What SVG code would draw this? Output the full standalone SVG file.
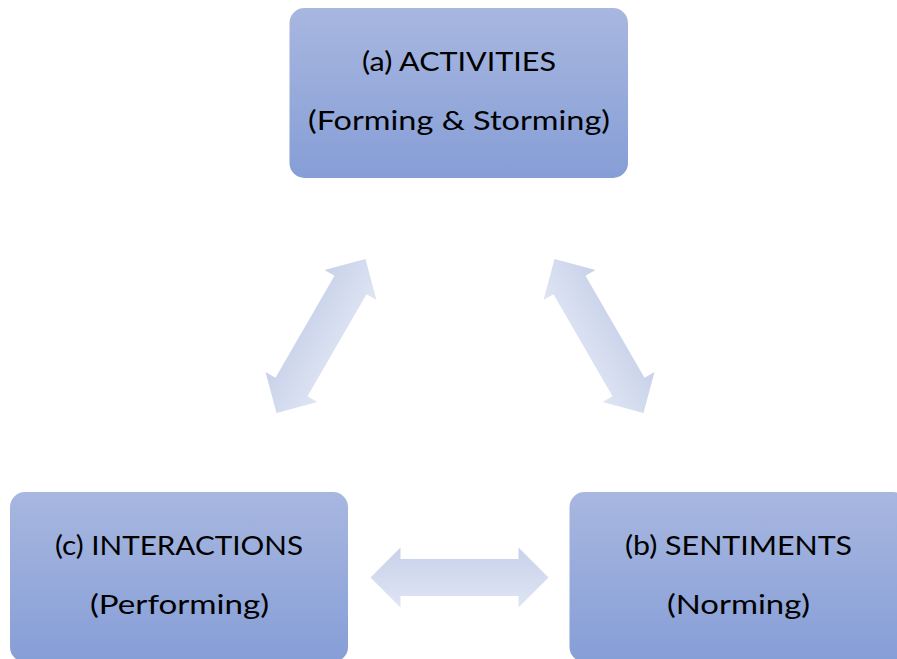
<svg xmlns="http://www.w3.org/2000/svg" width="897" height="659" viewBox="0 0 897 659">
  <defs>
    <linearGradient id="boxGrad" x1="0" y1="0" x2="0" y2="1">
      <stop offset="0" stop-color="#a8b7e0"/>
      <stop offset="1" stop-color="#869ed6"/>
    </linearGradient>
    <linearGradient id="arrowGrad" x1="0" y1="0" x2="0" y2="1">
      <stop offset="0" stop-color="#c8d1ea"/>
      <stop offset="1" stop-color="#dfe5f3"/>
    </linearGradient>
    <path id="dblArrow" d="M -89 0 L -59 -30 L -59 -18.5 L 59 -18.5 L 59 -30 L 89 0 L 59 30 L 59 18.5 L -59 18.5 L -59 30 Z"/>
  </defs>
  <style>
    .box { fill: url(#boxGrad); }
    .arrow { fill: url(#arrowGrad); }
    .label { font-family: Lato, "Open Sans", "Liberation Sans", sans-serif; font-size: 26.5px; fill: #000; text-anchor: middle; }
  </style>
  <rect width="897" height="659" fill="#ffffff"/>

  <g id="connectors">
    <g transform="translate(321 336) rotate(-60)"><use href="#dblArrow" class="arrow"/></g>
    <g transform="translate(599 336) rotate(60)"><use href="#dblArrow" class="arrow"/></g>
    <g transform="translate(459.5 577.5)"><use href="#dblArrow" class="arrow"/></g>
  </g>

  <g id="node-activities">
    <rect class="box" x="289.5" y="8" width="338.5" height="170" rx="15" ry="15"/>
    <text class="label" x="459" y="71" textLength="194" lengthAdjust="spacingAndGlyphs">(a) ACTIVITIES</text>
    <text class="label" x="459" y="130" textLength="302" lengthAdjust="spacingAndGlyphs">(Forming &amp; Storming)</text>
  </g>

  <g id="node-interactions">
    <rect class="box" x="10" y="492" width="338" height="170" rx="15" ry="15"/>
    <text class="label" x="179" y="555" textLength="248" lengthAdjust="spacingAndGlyphs">(c) INTERACTIONS</text>
    <text class="label" x="179.5" y="614" textLength="179" lengthAdjust="spacingAndGlyphs">(Performing)</text>
  </g>

  <g id="node-sentiments">
    <rect class="box" x="569.5" y="492" width="338.5" height="170" rx="15" ry="15"/>
    <text class="label" x="738.5" y="555" textLength="227" lengthAdjust="spacingAndGlyphs">(b) SENTIMENTS</text>
    <text class="label" x="738.5" y="614" textLength="143" lengthAdjust="spacingAndGlyphs">(Norming)</text>
  </g>
</svg>
